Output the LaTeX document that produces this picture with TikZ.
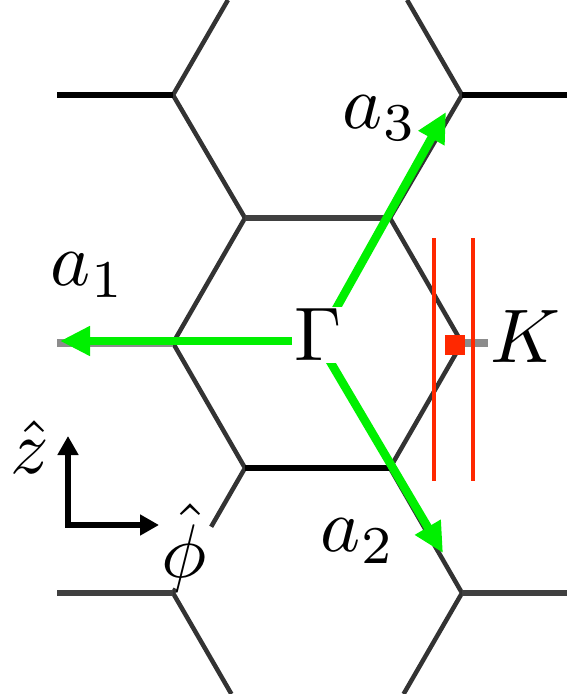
\documentclass[tikz,border=0pt]{standalone}
\usepackage{graphicx}
\usetikzlibrary{arrows.meta,calc}
\definecolor{kred}{RGB}{255,40,0}
\definecolor{vgreen}{RGB}{0,240,0}
\newcommand{\biglbl}[1]{\scalebox{7.6}{$#1$}}
\begin{document}
\begin{tikzpicture}[x=1pt,y=-1pt,
  lat/.style={draw=black!80, line width=4.5pt},
  hbar/.style={draw=black, line width=6pt},
  hbarg/.style={draw=black!75, line width=6pt},
  midbar/.style={draw=black!45, line width=7.5pt},
  garrow/.style={draw=vgreen, line width=8.5pt, -{Triangle[length=30pt,width=28pt]}},
  axarrow/.style={draw=black, line width=5.5pt, -{Triangle[length=19pt,width=20pt]}},
  redline/.style={draw=kred, line width=4.5pt},
  lbl/.style={inner sep=2pt},
  lblw/.style={lbl, fill=white}]
\useasboundingbox (0,0) rectangle (567,694);
% lattice vertices
\coordinate (A) at (173,95);
\coordinate (B) at (462,95);
\coordinate (C) at (245,218);
\coordinate (D) at (390,218);
\coordinate (E) at (173,343);
\coordinate (F) at (462,343);
\coordinate (G) at (245,468);
\coordinate (H) at (390,468);
\coordinate (I) at (173,593);
\coordinate (J) at (462,593);
\coordinate (A0) at (57,95);
\coordinate (B0) at (567,95);
\coordinate (E0) at (57,343);
\coordinate (I0) at (57,593);
\coordinate (J0) at (567,593);
\coordinate (A1) at (227.9,0);
\coordinate (B1) at (407.1,0);
\coordinate (I1) at (231.4,694);
\coordinate (J1) at (403.6,694);
\coordinate (Gg) at ($(G)!0.47!(I)$);
\coordinate (Ig) at ($(G)!0.965!(I)$);
% K label placed first (it ends the middle line)
\node[lbl] (K) at (525,337) {\biglbl{K}};
% lattice lines
\draw[lat] (A1) -- (A) -- (C) -- (E) -- (G) -- (Gg);
\draw[lat] (Ig) -- (I) -- (I1);
\draw[lat] (B1) -- (B) -- (D) -- (F) -- (H) -- (J) -- (J1);
\draw[hbar] (A0) -- (A);
\draw[hbar] (B) -- (B0);
\draw[hbarg] (C) -- (D);
\draw[hbar] (G) -- (H);
\draw[hbarg] (I0) -- (I);
\draw[hbarg] (J) -- (J0);
\draw[midbar] (E0) -- (E);
\draw[midbar] (F) -- (F -| K.west);
% red lines and K point
\coordinate (r1t) at (434,238);
\coordinate (r1b) at (434,481);
\coordinate (r2t) at (473,238);
\coordinate (r2b) at (473,481);
\draw[redline] (r1t) -- (r1b);
\draw[redline] (r2t) -- (r2b);
\node[fill=kred, minimum size=20pt, inner sep=0pt] (Kpt) at (455,345) {};
% green primitive vectors
\coordinate (O) at (318,341);
\coordinate (t1) at (60,341);
\coordinate (t2) at (443,553);
\coordinate (t3) at (446,112);
\draw[garrow] (O) -- (t1);
\draw[garrow] (O) -- (t2);
\draw[garrow] (O) -- (t3);
% labels
\node[lblw] (Gam) at (318,335) {\biglbl{\Gamma}};
\node[lbl] (a1) at (88,275) {\biglbl{a_1}};
\node[lbl] (a2) at (358,541) {\biglbl{a_2}};
\node[lbl] (a3) at (380,118) {\biglbl{a_3}};
% axes
\coordinate (ax0) at (68,525);
\coordinate (axz) at (68,436);
\coordinate (axp) at (159,525);
\draw[axarrow] (ax0) -- (axz);
\draw[axarrow] ([xshift=-2.75pt]ax0) -- (axp);
\node[lbl] (zhat) at (30,447) {\biglbl{\hat z}};
\node[lbl] (phihat) at (184,548) {\biglbl{\hat\phi}};
\end{tikzpicture}
\end{document}
